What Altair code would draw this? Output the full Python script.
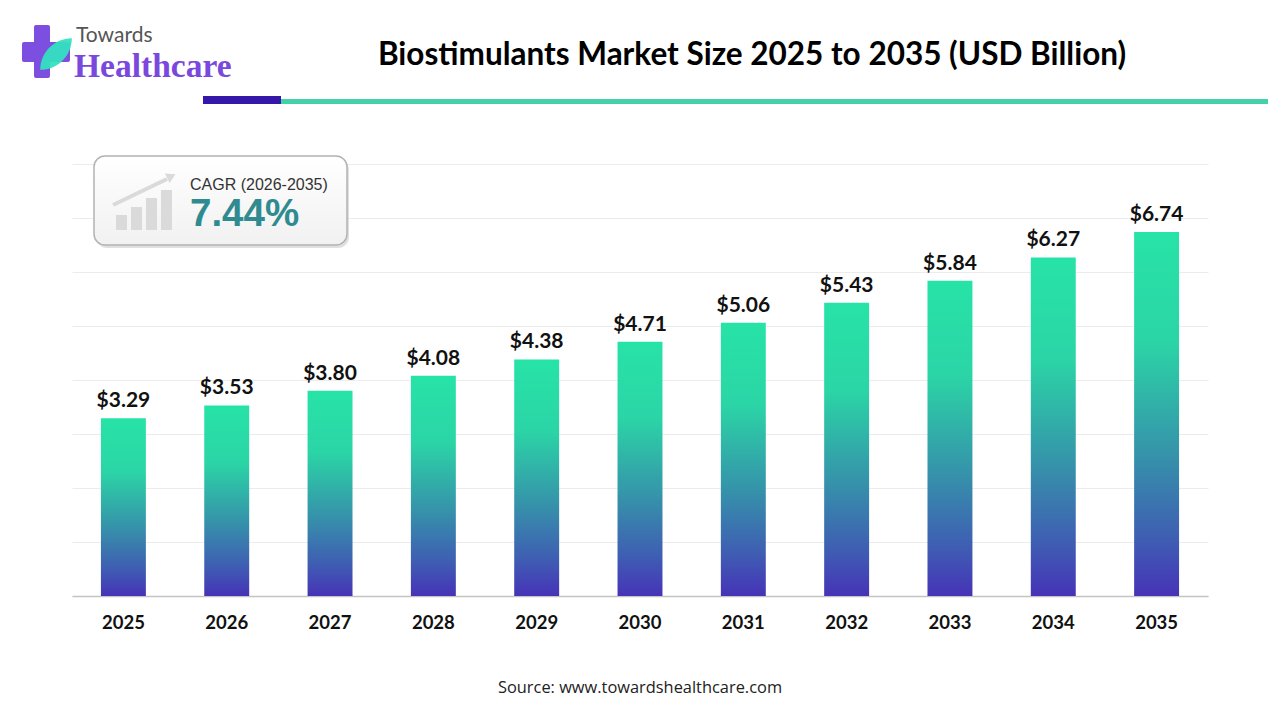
import altair as alt
import pandas as pd

years = ["2025", "2026", "2027", "2028", "2029", "2030", "2031", "2032", "2033", "2034", "2035"]
values = [3.29, 3.53, 3.80, 4.08, 4.38, 4.71, 5.06, 5.43, 5.84, 6.27, 6.74]
labels = ["$3.29", "$3.53", "$3.80", "$4.08", "$4.38", "$4.71", "$5.06", "$5.43", "$5.84", "$6.27", "$6.74"]

title_text = "Biostimulants Market Size 2025 to 2035 (USD Billion)"
source_text = "Source: www.towardshealthcare.com"
cagr_label = "CAGR (2026-2035)"
cagr_value = "7.44%"

df = pd.DataFrame({"year": years, "value": values, "label": labels})

W, H = 1136, 432
one = alt.Data(values=[{"k": 1}])

xs = alt.X("year:N", sort=years,
           scale=alt.Scale(paddingInner=0.565, paddingOuter=0.28),
           axis=alt.Axis(title=None, labelAngle=0, ticks=False, domain=True,
                         domainColor="#c4c4c4", domainWidth=1.5,
                         labelFont="Lato", labelFontWeight="bold", labelFontSize=18.5,
                         labelColor="#111111", labelPadding=17.5))
ys = alt.Y("value:Q", scale=alt.Scale(domain=[0, 8], nice=False, zero=True),
           axis=alt.Axis(title=None, labels=False, ticks=False, domain=False,
                         values=[0, 1, 2, 3, 4, 5, 6, 7, 8],
                         grid=True, gridColor="#ececec", gridWidth=1))

gradient = alt.LinearGradient(
    gradient="linear", x1=0, y1=0, x2=0, y2=1,
    stops=[alt.GradientStop(offset=0, color="#27e3a7"),
           alt.GradientStop(offset=0.3, color="#2bd5a6"),
           alt.GradientStop(offset=0.6, color="#3595aa"),
           alt.GradientStop(offset=0.85, color="#3f5cb3"),
           alt.GradientStop(offset=1, color="#4633b7")])

bars = alt.Chart(df).mark_bar(color=gradient).encode(x=xs, y=ys)

value_text = alt.Chart(df).mark_text(
    font="Lato", fontWeight="bold", fontSize=21, color="#111111",
    baseline="alphabetic", dy=-11).encode(x=xs, y=ys, text="label:N")

# ---- decorations (pixel offsets relative to plot origin) ----
def rect(x, x2, y, y2, **kw):
    return alt.Chart(one).mark_rect(**kw).encode(
        x=alt.value(x), x2=alt.value(x2), y=alt.value(y), y2=alt.value(y2))

def txt(x, y, s, **kw):
    return alt.Chart(one).mark_text(**kw).encode(
        x=alt.value(x), y=alt.value(y), text=alt.value(s))

title = txt(680, -99, title_text, font="Lato", fontWeight="bold", fontSize=31.5,
            color="#000000", align="center", baseline="alphabetic")

hdr_indigo = rect(131, 209, -68, -60, color="#3518a9")
hdr_teal = rect(209, 1200, -65, -60, color="#43d1a9")

# logo
plus_v = rect(-38, -22, -139, -86, color="#7d4fe0", cornerRadius=2)
plus_h = rect(-50, -2, -122, -102, color="#7d4fe0", cornerRadius=2)
leaf = alt.Chart(one).mark_point(
    shape="M-1,1 C-1,-0.1 -0.1,-1 1,-1 C1,0.1 0.1,1 -1,1 Z",
    filled=True, color="#35e0c0", opacity=0.95, size=1000).encode(
    x=alt.value(-16), y=alt.value(-110))
towards = txt(4, -122, "Towards", font="Lato", fontSize=21, color="#555555",
              align="left", baseline="alphabetic")
healthcare = txt(2, -87, "Healthcare", font="Liberation Serif", fontWeight="bold",
                 fontSize=33.5, color="#7a48dc", align="left", baseline="alphabetic")

# CAGR box
box_shadow = rect(24, 277, -5, 84, color="#d8d8d8", cornerRadius=11, opacity=0.8)
box_grad = alt.LinearGradient(
    gradient="linear", x1=0, y1=0, x2=0, y2=1,
    stops=[alt.GradientStop(offset=0, color="#ffffff"),
           alt.GradientStop(offset=1, color="#f1f1f1")])
box = rect(22, 275, -8, 81, color=box_grad, cornerRadius=11,
           stroke="#b3b3b3", strokeWidth=1.5)
ib1 = rect(44, 55, 51, 66, color="#dadada")
ib2 = rect(59, 70, 43, 66, color="#dadada")
ib3 = rect(74, 85, 34, 66, color="#dadada")
ib4 = rect(89, 100, 26, 66, color="#dadada")
arrow_line = alt.Chart(one).mark_rule(color="#dadada", strokeWidth=4).encode(
    x=alt.value(41), x2=alt.value(95), y=alt.value(41), y2=alt.value(15))
arrow_head = alt.Chart(one).mark_point(shape="triangle", filled=True, color="#dadada",
                                       size=110, angle=64, opacity=1).encode(
    x=alt.value(98), y=alt.value(13))
cagr_t = txt(118, 26, cagr_label, font="Liberation Sans", fontSize=16, color="#333333",
             align="left", baseline="alphabetic")
cagr_v = txt(118, 62, cagr_value, font="Liberation Sans", fontWeight="bold", fontSize=38.5,
             color="#2f8b90", align="left", baseline="alphabetic")

source = txt(568, 529, source_text, font="Open Sans", fontSize=16.4, color="#222222",
             align="center", baseline="alphabetic")

chart = alt.layer(
    bars, value_text,
    title, hdr_indigo, hdr_teal,
    plus_v, plus_h, leaf, towards, healthcare,
    box_shadow, box, ib1, ib2, ib3, ib4, arrow_line, arrow_head, cagr_t, cagr_v,
    source,
).properties(
    width=W, height=H,
    autosize=alt.AutoSizeParams(type="none"),
    padding={"left": 64, "top": 156, "right": 60, "bottom": 116},
    background="#ffffff",
).configure_view(stroke=None)

chart.save("out.html", embed_options={"renderer": "svg", "actions": False})
